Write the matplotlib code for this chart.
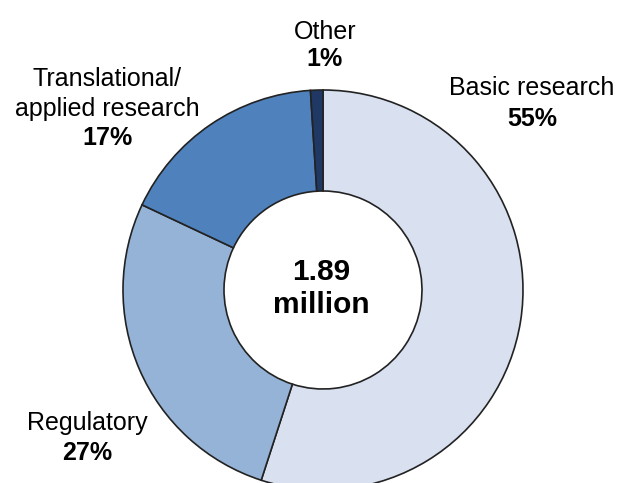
import matplotlib
matplotlib.use("Agg")
import matplotlib.pyplot as plt

categories = ["Basic research", "Regulatory", "Translational/\napplied research", "Other"]
values = [55, 27, 17, 1]
pct_labels = ["55%", "27%", "17%", "1%"]
colors = ["#D9E1F1", "#95B3D7", "#4F81BD", "#1F3864"]
total_lines = ["1.89", "million"]

plt.rcParams['font.family'] = ['Liberation Sans', 'DejaVu Sans']

fig = plt.figure(figsize=(6.22, 4.83), dpi=100)
ax = fig.add_axes([0, 0, 1, 1])

cx, cy, R = 323, 193, 200
ax.pie(values, colors=colors, startangle=90, counterclock=False,
       center=(cx, cy), radius=R, frame=True,
       wedgeprops=dict(width=101, edgecolor='#222222', linewidth=1.2))
ax.set_xlim(0, 622)
ax.set_ylim(0, 483)
ax.set_aspect('equal')
ax.axis('off')

H = 483
ax.text(321, H - 272, total_lines[0], ha='center', va='center', fontsize=21.5, fontweight='bold')
ax.text(321, H - 305, total_lines[1], ha='center', va='center', fontsize=21.5, fontweight='bold')

fs = 18
# Other
ax.text(325, H - 32, "Other", ha='center', va='center', fontsize=fs)
ax.text(325, H - 59, pct_labels[3], ha='center', va='center', fontsize=fs, fontweight='bold')
# Basic research
ax.text(532, H - 88, categories[0], ha='center', va='center', fontsize=fs)
ax.text(532, H - 119, pct_labels[0], ha='center', va='center', fontsize=fs, fontweight='bold')
# Translational
ax.text(107, H - 79, "Translational/", ha='center', va='center', fontsize=fs)
ax.text(107, H - 109, "applied research", ha='center', va='center', fontsize=fs)
ax.text(107, H - 138, pct_labels[2], ha='center', va='center', fontsize=fs, fontweight='bold')
# Regulatory
ax.text(87, H - 423, categories[1], ha='center', va='center', fontsize=fs)
ax.text(87, H - 453, pct_labels[1], ha='center', va='center', fontsize=fs, fontweight='bold')

fig.savefig("out.png", dpi=100, facecolor='white')
